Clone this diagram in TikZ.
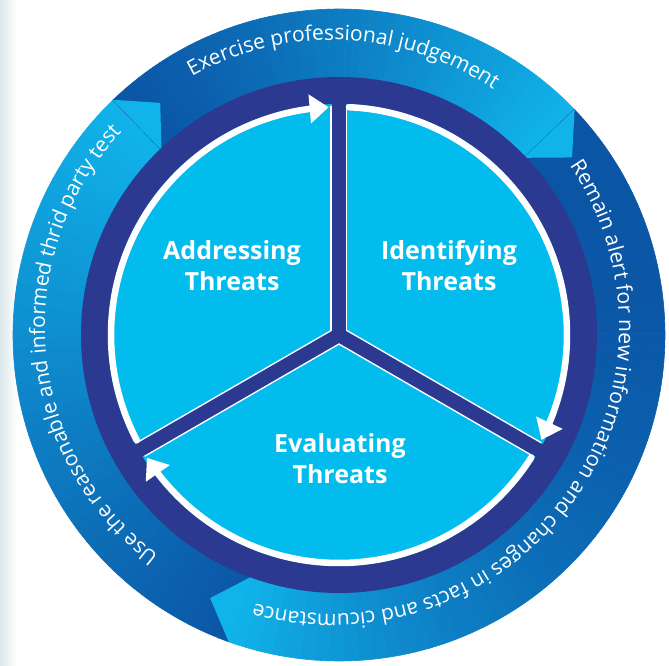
\documentclass[tikz,border=0pt]{standalone}
\usepackage{fontspec}
\setmainfont{Open Sans}
\usetikzlibrary{decorations.text,arrows.meta,bending}
\definecolor{bandDark}{HTML}{0B55A5}
\definecolor{bandLight}{HTML}{10B3EA}
\definecolor{navy}{HTML}{2B3990}
\definecolor{innerCyan}{HTML}{03BCEE}
\definecolor{bgGray}{HTML}{DCE7EA}
\tikzset{
  bandtext/.style={decorate, decoration={text along path, text align=center,
     text={|\color{white}\fontsize{21}{21}\selectfont|#1}}},
  whitearc/.style={draw=white, line width=6.5pt, line cap=round,
     -{Triangle[width=28pt,length=19pt]}},
  label/.style={text=white, font=\bfseries\fontsize{25}{31}\selectfont, align=center}
}
\begin{document}
\begin{tikzpicture}[x=1pt,y=1pt]
\useasboundingbox (-339,-331) rectangle (330,335);
\fill[white] (-339,-331) rectangle (330,335);
\shade[left color=bgGray, right color=white] (-339,-331) rectangle (-322,335);
% outer band gradient segments
\foreach \a/\b/\p in {250.3/133.9/1.0, 133.9/43.8/1.2, 43.8/-109.7/2.6}{
  \foreach \i in {0,...,59}{
    \pgfmathsetmacro{\sa}{\a+(\b-\a)*\i/60}
    \pgfmathsetmacro{\ea}{\a+(\b-\a)*(\i+1)/60}
    \pgfmathsetmacro{\t}{round(100*((\i+0.5)/60)^\p)}
    \fill[bandLight!\t!bandDark, draw=bandLight!\t!bandDark, line width=0.6pt]
      (0,0) -- (\sa:326pt) arc[start angle=\sa, end angle=\ea, radius=326pt] -- cycle;
  }
}
% chevron tips
\foreach \base/\tip in {133.9/127.6, 43.8/37.3, -109.7/-116.1}{
  \fill[bandLight] (\base:326.5pt) -- (\tip:293pt) -- (\base:256pt) -- cycle;
}
% navy ring and inner disc
\fill[navy] (0,0) circle[radius=258pt];
\fill[innerCyan] (0,0) circle[radius=231pt];
% spokes
\foreach \ang in {90,210,330}{
  \draw[white, line width=17pt] (0,0) -- (\ang:229pt);
}
\foreach \ang in {90,210,330}{
  \draw[navy, line width=14pt] (0,0) -- (\ang:250pt);
}
% white cycle arrows
\draw[whitearc] (207.5:228pt) arc[start angle=207.5, end angle=92.6, radius=228pt];
\draw[whitearc] (87.5:228pt) arc[start angle=87.5, end angle=-27.4, radius=228pt];
\draw[whitearc] (-32.5:228pt) arc[start angle=-32.5, end angle=-147.4, radius=228pt];
% labels
\node[label] (addr) at (-107,69) {Addressing\\Threats};
\node[label] (iden) at (110,69) {Identifying\\Threats};
\node[label] (eval) at (1,-124) {Evaluating\\Threats};
% band texts
\begin{scope}[shift={(-7,8)}]
\path[bandtext={Exercise professional judgement}] (150:287pt) arc[start angle=150, end angle=25, radius=287pt];
\path[bandtext={Remain alert for new information and changes in facts and cicumstance}] (55:287pt) arc[start angle=55, end angle=-126.5, radius=287pt];
\path[bandtext={Use the reasonable and informed thrid party test}] (255:287pt) arc[start angle=255, end angle=115, radius=287pt];
\end{scope}
\end{tikzpicture}
\end{document}
